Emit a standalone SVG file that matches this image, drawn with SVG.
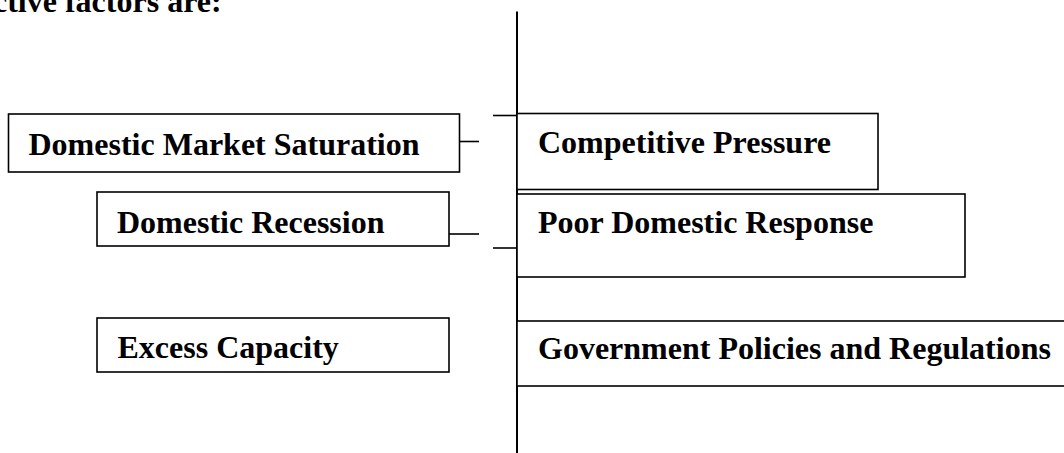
<svg xmlns="http://www.w3.org/2000/svg" width="1064" height="453" viewBox="0 0 1064 453">
  <style>
    .box { fill: #ffffff; stroke: #000000; stroke-width: 1.6; }
    .lbl { font-family: "Liberation Serif", "Times New Roman", serif; font-weight: bold; font-size: 32px; fill: #000000; }
    .wire { stroke: #000000; stroke-width: 1.6; fill: none; }
    .spine { stroke: #000000; stroke-width: 2; fill: none; }
  </style>
  <rect width="1064" height="453" fill="#ffffff"/>

  <!-- heading, clipped at the top-left edge -->
  <text class="lbl" x="-7" y="12">ctive factors are:</text>

  <!-- connectors -->
  <g id="connectors">
    <line class="spine" x1="517" y1="11.5" x2="517" y2="453"/>
    <line class="wire" x1="449" y1="141.5" x2="479" y2="141.5"/>
    <line class="wire" x1="493" y1="115.5" x2="517" y2="115.5"/>
    <line class="wire" x1="449" y1="234" x2="479" y2="234"/>
    <line class="wire" x1="493" y1="248" x2="517" y2="248"/>
  </g>

  <!-- left-hand factors -->
  <g id="domestic-market-saturation">
    <rect class="box" x="8.5" y="114" width="451" height="58"/>
    <text class="lbl" x="28.5" y="155">Domestic Market Saturation</text>
  </g>
  <g id="domestic-recession">
    <rect class="box" x="97" y="192" width="352" height="54"/>
    <text class="lbl" x="117" y="233">Domestic Recession</text>
  </g>
  <g id="excess-capacity">
    <rect class="box" x="97" y="318" width="352" height="54"/>
    <text class="lbl" x="117.5" y="358">Excess Capacity</text>
  </g>

  <!-- right-hand factors -->
  <g id="competitive-pressure">
    <rect class="box" x="517" y="113.5" width="361" height="76"/>
    <text class="lbl" x="538" y="153">Competitive Pressure</text>
  </g>
  <g id="poor-domestic-response">
    <rect class="box" x="517" y="194" width="448" height="83"/>
    <text class="lbl" x="538" y="233">Poor Domestic Response</text>
  </g>
  <g id="government-policies">
    <rect class="box" x="517" y="321" width="560" height="65"/>
    <text class="lbl" x="538" y="359">Government Policies and Regulations</text>
  </g>
</svg>
